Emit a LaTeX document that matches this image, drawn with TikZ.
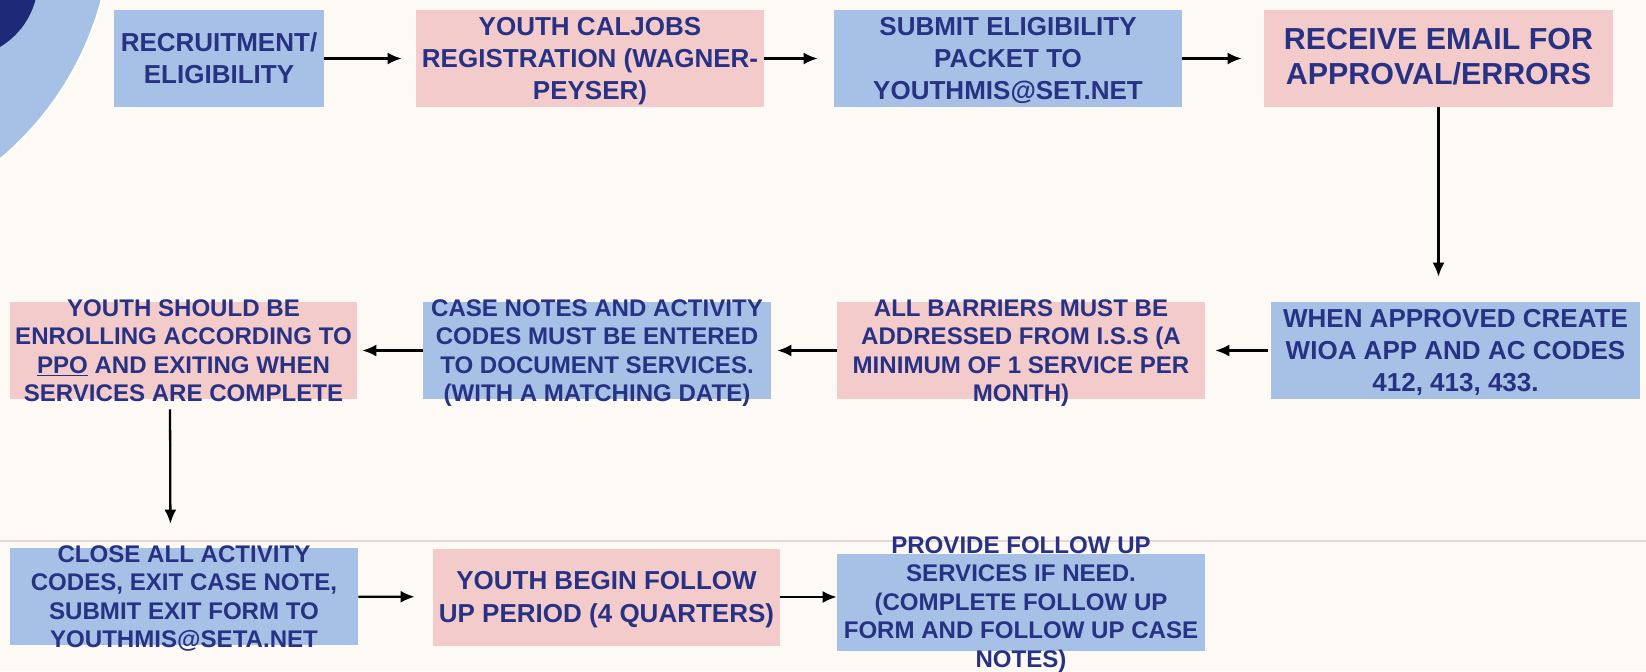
\documentclass[tikz,border=0pt]{standalone}
\usepackage{fontspec}
\setmainfont{Liberation Sans}
\usepackage[hyperref]{xcolor}
\definecolor{FlowBlue}{RGB}{167,192,229}
\definecolor{FlowPink}{RGB}{243,203,203}
\definecolor{FlowNavy}{RGB}{40,50,132}
\definecolor{FlowDark}{RGB}{30,42,120}
\definecolor{FlowCream}{RGB}{253,249,245}
\definecolor{FlowRule}{RGB}{236,214,210}
\usepackage{tikz}
\usetikzlibrary{math,arrows.meta}
\newcommand*{\boxlines}[1]{\smash{\raisebox{-1.8mm}{\begin{tabular}{@{}c@{}}#1\end{tabular}}}}

\begin{document}
\begin{tikzpicture}[
    box/.style={minimum width=#1, minimum height=1.94cm, inner sep=0pt, text=FlowNavy},
    bluebox/.style={box=#1, fill=FlowBlue},
    pinkbox/.style={box=#1, fill=FlowPink},
    bigtext/.style={font=\bfseries\fontsize{14.8}{18.4}\selectfont},
    smalltext/.style={font=\bfseries\fontsize{13.7}{16.2}\selectfont},
    flow/.style={->,>={Latex[length=2.8mm,width=2.4mm]},line width=1.3pt}
  ]
    \tikzmath{
      \pagew=32.92; \pageh=13.42; % page size
      \toprow=-1.17; \midrow=-7.01; % row heights
    }
    \useasboundingbox (0,0) rectangle (\pagew,-\pageh);
    \fill[FlowCream] (0,0) rectangle (\pagew,-\pageh);
    \begin{scope}
      \clip (0,0) rectangle (\pagew,-\pageh);
      \filldraw[fill=FlowBlue,draw=white,line width=1.2pt] (-4,1.6) circle (6.24);
      \fill[FlowDark] (-0.8,0.4) circle (1.56);
    \end{scope}
    \draw[FlowRule,line width=0.6pt] (0,-10.82) -- (\pagew,-10.82);
    % top row
    \node[bluebox=4.2cm,bigtext] (recruit) at (4.38,\toprow) {\boxlines{RECRUITMENT/\\ELIGIBILITY}};
    \node[pinkbox=6.96cm,bigtext] (caljobs) at (11.8,\toprow) {\boxlines{YOUTH CALJOBS\\REGISTRATION (WAGNER-\\PEYSER)}};
    \node[bluebox=6.96cm,bigtext] (packet) at (20.16,\toprow) {\boxlines{SUBMIT ELIGIBILITY\\PACKET TO\\YOUTHMIS@SET.NET}};
    \node[pinkbox=6.98cm,font=\bfseries\fontsize{17.3}{19.8}\selectfont] (email) at (28.77,\toprow) {\boxlines{RECEIVE EMAIL FOR\\APPROVAL/ERRORS}};
    % middle row
    \node[bluebox=7.38cm,bigtext] (approved) at (29.11,\midrow) {\boxlines{WHEN APPROVED CREATE\\WIOA APP AND AC CODES\\412, 413, 433.}};
    \node[pinkbox=7.36cm,smalltext] (barriers) at (20.42,\midrow) {\boxlines{ALL BARRIERS MUST BE\\ADDRESSED FROM I.S.S (A\\MINIMUM OF 1 SERVICE PER\\MONTH)}};
    \node[bluebox=6.96cm,smalltext] (notes) at (11.94,\midrow) {\boxlines{CASE NOTES AND ACTIVITY\\CODES MUST BE ENTERED\\TO DOCUMENT SERVICES.\\(WITH A MATCHING DATE)}};
    \node[pinkbox=6.94cm,smalltext] (enroll) at (3.67,\midrow) {\boxlines{YOUTH SHOULD BE\\ENROLLING ACCORDING TO\\\underline{PPO} AND EXITING WHEN\\SERVICES ARE COMPLETE}};
    % bottom row
    \node[bluebox=6.96cm,smalltext] (close) at (3.68,-11.93) {\boxlines{CLOSE ALL ACTIVITY\\CODES, EXIT CASE NOTE,\\SUBMIT EXIT FORM TO\\YOUTHMIS@SETA.NET}};
    \node[pinkbox=6.94cm,bigtext] (period) at (12.13,-11.94) {\boxlines{YOUTH BEGIN FOLLOW\\UP PERIOD (4 QUARTERS)}};
    \node[bluebox=7.36cm,smalltext] (followup) at (20.42,-12.04) {\boxlines{PROVIDE FOLLOW UP\\SERVICES IF NEED.\\(COMPLETE FOLLOW UP\\FORM AND FOLLOW UP CASE\\NOTES)}};
    % arrows
    \draw[flow,shorten >=0.28cm] (recruit) -- (caljobs);
    \draw[flow,shorten >=0.32cm] (caljobs) -- (packet);
    \draw[flow,shorten >=0.44cm] (packet) -- (email);
    \draw[flow,shorten >=0.5cm] (email.south) -- (email.south |- approved.north);
    \draw[flow,shorten <=0.06cm,shorten >=0.2cm] (approved) -- (barriers);
    \draw[flow,shorten >=0.12cm] (barriers) -- (notes);
    \draw[flow,shorten >=0.1cm] (notes) -- (enroll);
    \draw[flow,shorten <=0.2cm,shorten >=0.48cm] ([xshift=-0.27cm]enroll.south) -- ([xshift=-0.27cm]close.north);
    \draw[flow,shorten >=0.36cm] (close) -- (period);
    \draw[flow] (period.east) -- (period.east -| followup.west);
  \end{tikzpicture}
\end{document}
